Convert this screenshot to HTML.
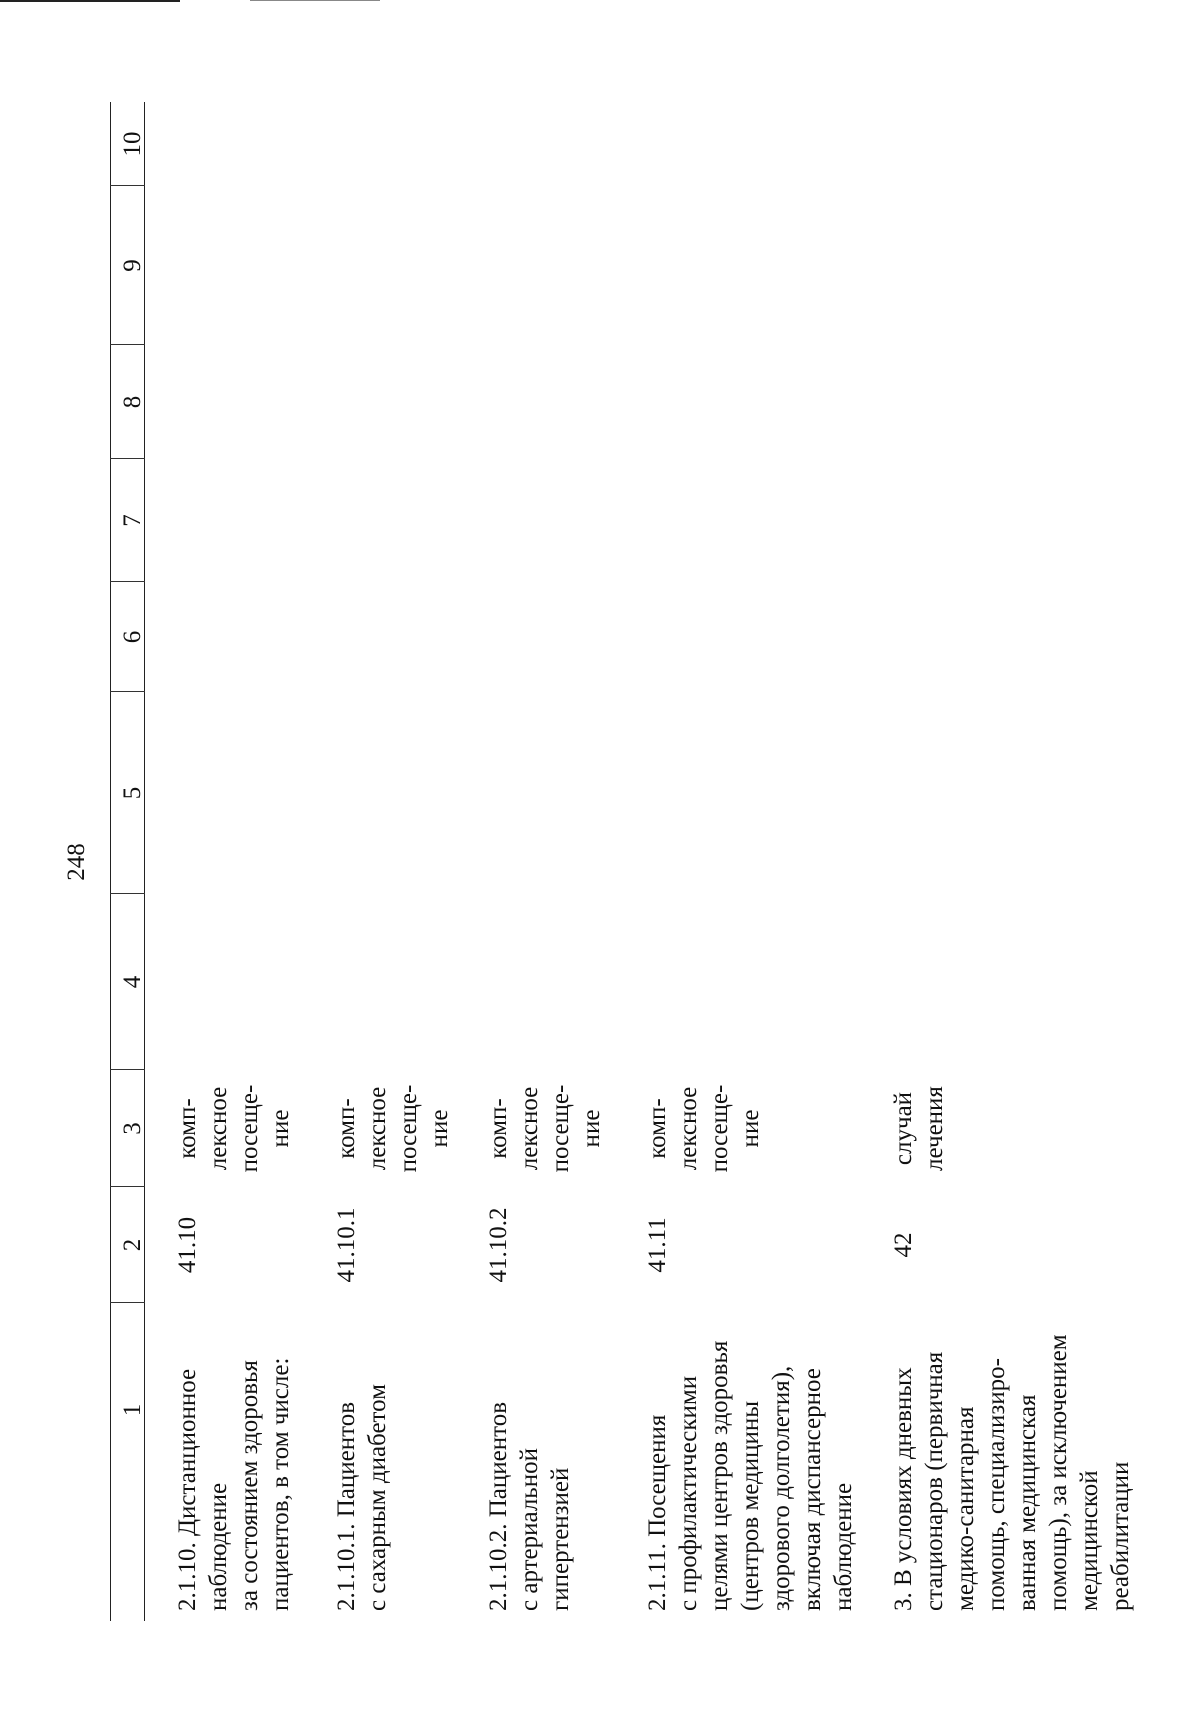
<!DOCTYPE html>
<html>
<head>
<meta charset="utf-8">
<style>
html,body{margin:0;padding:0;background:#fff;}
body{width:1200px;height:1714px;position:relative;overflow:hidden;}
#land{position:absolute;left:0;top:0;width:1714px;height:1200px;transform-origin:0 0;transform:translateY(1714px) rotate(-90deg);
 font-family:"Liberation Serif",serif;font-size:25px;line-height:31px;color:#111;}
.t{position:absolute;white-space:nowrap;}
.c{text-align:center;}
.hl{position:absolute;height:0;border-top:1.5px solid #222;}
.vl{position:absolute;width:0;border-left:1.5px solid #333;top:110px;height:35px;}
.edge{position:absolute;background:#222;}
</style>
</head>
<body>
<div class="edge" style="left:0;top:0;width:180px;height:2px;"></div>
<div class="edge" style="left:250px;top:0;width:130px;height:1px;background:#888"></div>
<div id="land">
  <div class="hl" style="left:93px;top:110px;width:1519px;"></div>
  <div class="hl" style="left:93px;top:144px;width:1519px;"></div>
  <div class="vl" style="left:411px"></div>
  <div class="vl" style="left:527px"></div>
  <div class="vl" style="left:644px"></div>
  <div class="vl" style="left:820px"></div>
  <div class="vl" style="left:1022px"></div>
  <div class="vl" style="left:1132px"></div>
  <div class="vl" style="left:1255px"></div>
  <div class="vl" style="left:1369px"></div>
  <div class="vl" style="left:1528px"></div>

  <div class="t c" style="left:812px;width:80px;top:61px;">248</div>

  <div class="t c" style="left:93px;width:422px;top:117px;">1</div>
  <div class="t c" style="left:411px;width:116px;top:117px;">2</div>
  <div class="t c" style="left:527px;width:117px;top:117px;">3</div>
  <div class="t c" style="left:644px;width:176px;top:117px;">4</div>
  <div class="t c" style="left:820px;width:202px;top:117px;">5</div>
  <div class="t c" style="left:1022px;width:110px;top:117px;">6</div>
  <div class="t c" style="left:1132px;width:123px;top:117px;">7</div>
  <div class="t c" style="left:1255px;width:114px;top:117px;">8</div>
  <div class="t c" style="left:1369px;width:159px;top:117px;">9</div>
  <div class="t c" style="left:1528px;width:84px;top:117px;">10</div>

  <div class="t" style="left:103px;top:172px;">2.1.10. Дистанционное<br>наблюдение<br>за состоянием здоровья<br>пациентов, в том числе:</div>
  <div class="t c" style="left:411px;width:116px;top:172px;">41.10</div>
  <div class="t c" style="left:527px;width:117px;top:172px;">комп-<br>лексное<br>посеще-<br>ние</div>

  <div class="t" style="left:103px;top:331px;">2.1.10.1. Пациентов<br>с сахарным диабетом</div>
  <div class="t c" style="left:411px;width:116px;top:331px;">41.10.1</div>
  <div class="t c" style="left:527px;width:117px;top:331px;">комп-<br>лексное<br>посеще-<br>ние</div>

  <div class="t" style="left:103px;top:483px;">2.1.10.2. Пациентов<br>с артериальной<br>гипертензией</div>
  <div class="t c" style="left:411px;width:116px;top:483px;">41.10.2</div>
  <div class="t c" style="left:527px;width:117px;top:483px;">комп-<br>лексное<br>посеще-<br>ние</div>

  <div class="t" style="left:103px;top:642px;">2.1.11. Посещения<br>с профилактическими<br>целями центров здоровья<br>(центров медицины<br>здорового долголетия),<br>включая диспансерное<br>наблюдение</div>
  <div class="t c" style="left:411px;width:116px;top:642px;">41.11</div>
  <div class="t c" style="left:527px;width:117px;top:642px;">комп-<br>лексное<br>посеще-<br>ние</div>

  <div class="t" style="left:103px;top:888px;">3. В условиях дневных<br>стационаров (первичная<br>медико-санитарная<br>помощь, специализиро-<br>ванная медицинская<br>помощь), за исключением<br>медицинской<br>реабилитации</div>
  <div class="t c" style="left:411px;width:116px;top:888px;">42</div>
  <div class="t c" style="left:527px;width:117px;top:888px;">случай<br>лечения</div>
</div>
</body>
</html>
